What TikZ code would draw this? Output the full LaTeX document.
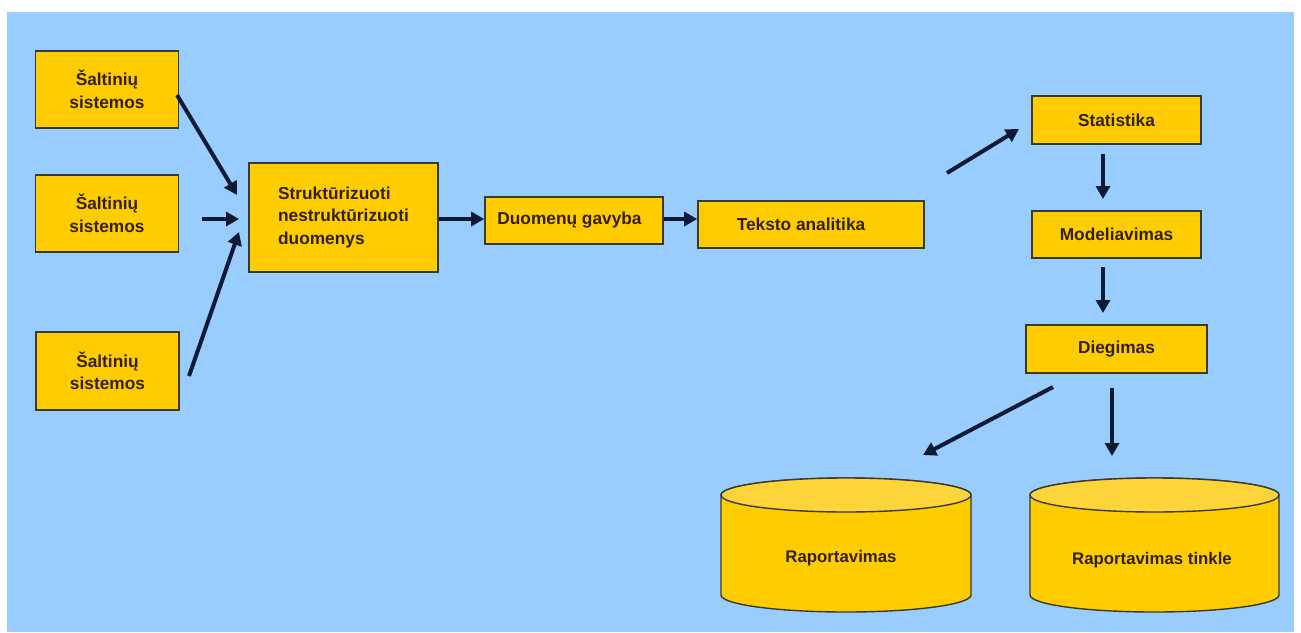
\documentclass[tikz,border=0pt]{standalone}
\usepackage{fontspec}
\setmainfont{Liberation Sans}
\usetikzlibrary{arrows.meta}
\definecolor{sky}{HTML}{99CCFF}
\definecolor{gold}{HTML}{FFCC00}
\definecolor{goldtop}{HTML}{FDD43A}
\definecolor{rim}{HTML}{3A3A2A}
\definecolor{ink}{HTML}{33200A}
\definecolor{navy}{HTML}{0D1A33}
\begin{document}
\begin{tikzpicture}[x=1pt,y=-1pt,
  box/.style={draw=rim, line width=1.6pt, fill=gold, inner sep=0pt,
    text=ink, font=\fontsize{17.3}{22.5}\selectfont\bfseries, align=center},
  cyllabel/.style={text=ink, font=\fontsize{16.8}{20}\selectfont\bfseries},
  cylbody/.style={draw=rim, line width=1.4pt, fill=gold},
  cyltop/.style={draw=rim, line width=1.4pt, fill=goldtop},
  arr/.style={draw=navy, line width=4pt,
    -{Triangle[length=13pt,width=14pt]}}]
\useasboundingbox (0,0) rectangle (1301,632);
\fill[white] (0,0) rectangle (1301,632);
\fill[sky] (7,12) rectangle (1294,632);

% source systems
\node[box, minimum width=143pt, minimum height=77pt] (src1) at (107,89.5) {Šaltinių\\sistemos};
\node[box, minimum width=143pt, minimum height=77pt] (src2) at (107,213.5) {Šaltinių\\sistemos};
\node[box, minimum width=143pt, minimum height=78pt] (src3) at (107.5,371) {Šaltinių\\sistemos};

% processing chain
\node[box, minimum width=189pt, minimum height=109pt] (mix) at (343.5,217.5) {};
\node[box, draw=none, fill=none, align=left] (mixtext) at (mix.center) {Struktūrizuoti\\nestruktūrizuoti\\duomenys};
\node[box, minimum width=178pt, minimum height=47pt] (mine) at (574,220.5) {\hspace*{-9pt}Duomenų gavyba};
\node[box, minimum width=226pt, minimum height=47pt] (txt) at (811,224.5) {\hspace*{-20pt}Teksto analitika};

\node[box, minimum width=169pt, minimum height=48pt] (stat) at (1116.5,120) {Statistika};
\node[box, minimum width=169pt, minimum height=47pt] (model) at (1116.5,234.5) {Modeliavimas};
\node[box, minimum width=181pt, minimum height=48pt] (deploy) at (1116.5,349) {Diegimas};

% report stores
\filldraw[cylbody] (721,495) -- (721,595)
  arc[start angle=180, end angle=360, x radius=125pt, y radius=17pt]
  -- (971,495)
  arc[start angle=0, end angle=180, x radius=125pt, y radius=17pt] -- cycle;
\filldraw[cyltop] (846,495) ellipse [x radius=125pt, y radius=17pt];
\node[cyllabel] (rep) at (841,558) {Raportavimas};

\filldraw[cylbody] (1030,495) -- (1030,595)
  arc[start angle=180, end angle=360, x radius=124.5pt, y radius=17pt]
  -- (1279,495)
  arc[start angle=0, end angle=180, x radius=124.5pt, y radius=17pt] -- cycle;
\filldraw[cyltop] (1154.5,495) ellipse [x radius=124.5pt, y radius=17pt];
\node[cyllabel] (web) at (1152,560) {Raportavimas tinkle};

% arrow end points
\coordinate (o1) at (177,95);   \coordinate (i1) at (237,195);
\coordinate (o2) at (202,219);  \coordinate (i2) at (239,219);
\coordinate (o3) at (189,376);  \coordinate (i3) at (239,232);
\coordinate (o6) at (947,173);  \coordinate (i6) at (1019,129);
\coordinate (s7) at (1103,154); \coordinate (e7) at (1103,199);
\coordinate (s8) at (1103,267); \coordinate (e8) at (1103,313);
\coordinate (o9) at (1053,387); \coordinate (i9) at (923,455);
\coordinate (o10) at (1112,388);\coordinate (i10) at (1112,456);

\draw[arr] (o1) -- (i1);
\draw[arr] (o2) -- (i2);
\draw[arr] (o3) -- (i3);
\draw[arr] (mix.east |- 0,219) -- (mine.west |- 0,219);
\draw[arr] (mine.east |- 0,219) -- (txt.west |- 0,219);
\draw[arr] (o6) -- (i6);
\draw[arr] (s7) -- (e7);
\draw[arr] (s8) -- (e8);
\draw[arr] (o9) -- (i9);
\draw[arr] (o10) -- (i10);
\end{tikzpicture}
\end{document}
